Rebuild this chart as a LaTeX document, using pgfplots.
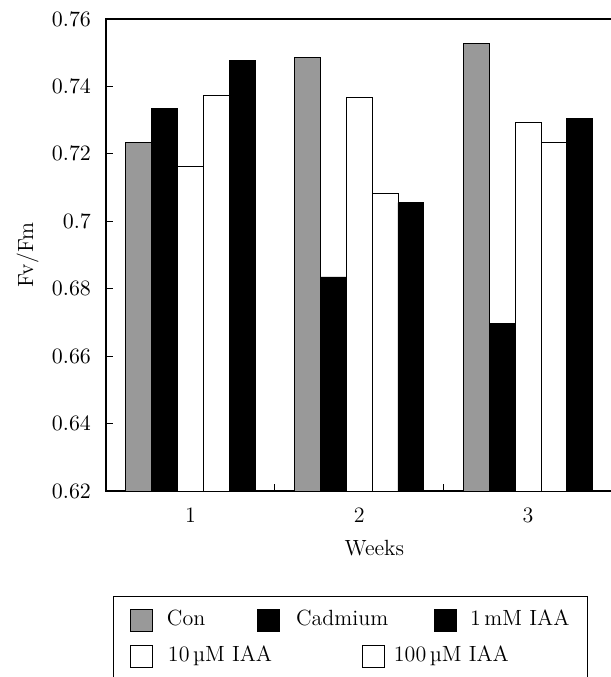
\documentclass[border=0pt]{standalone}
\usepackage{pgfplots}
\pgfplotsset{compat=1.18}
\pgfplotstableread{
week con   cad    tenuM  hundreduM onemM
1    0.7234 0.7335 0.7164 0.7373 0.7476
2    0.7486 0.6835 0.7366 0.7083 0.7055
3    0.7527 0.6696 0.7294 0.7235 0.7305
}\datatable
\begin{document}
\begin{tikzpicture}[font=\fontsize{11}{13}\selectfont]
\pgfplotsset{
  sqleg/.style={legend image code/.code={\draw[##1, line width=0.4pt] (0pt,-3pt) rectangle (11pt,8pt);}},
  common/.style={scale only axis, width=253.2pt, height=236pt, at={(0,0)}, anchor=south west},
}
\begin{axis}[
  common,
  xmin=0.5, xmax=3.5, ymin=0.62, ymax=0.76,
  axis line style={line width=0.6pt},
  xtick={1.5,2.5}, xticklabels={},
  extra x ticks={1,2,3}, extra x tick labels={1,2,3},
  extra x tick style={major tick length=0pt, tick label style={yshift=-4.8pt}},
  xtick pos=bottom, ytick pos=left,
  tick align=inside, major tick length=3.5pt,
  tick style={black, line width=0.6pt},
  ytick={0.62,0.64,0.66,0.68,0.70,0.72,0.74,0.76},
  yticklabel style={/pgf/number format/fixed, /pgf/number format/precision=2, xshift=-4pt},
  ylabel={Fv/Fm}, ylabel style={at={(axis description cs:-0.155,0.5)}, anchor=center},
  xlabel={Weeks}, xlabel style={at={(axis description cs:0.53,0)}, anchor=center, yshift=-28.5pt},
  sqleg,
  legend columns=3, legend cell align=left,
  legend style={at={(0,0)}, anchor=north west, xshift=11.8pt, yshift=-58.8pt,
    draw=none, fill=none, inner sep=0pt, outer sep=0pt,
    nodes={inner sep=0pt, outer sep=0pt, anchor=base west},
    /tikz/column 1/.style={column sep=7.3pt},
    /tikz/column 2/.style={column sep=25.7pt},
    /tikz/column 3/.style={column sep=8.3pt},
    /tikz/column 4/.style={column sep=22.7pt},
    /tikz/column 5/.style={column sep=6.8pt}},
]
\addplot[ybar, bar width=0.153, bar shift=-0.306, fill=black!40, draw=black, line width=0.4pt, forget plot] table[x=week, y=con] {\datatable};
\addplot[ybar, bar width=0.153, bar shift=-0.153, fill=black, draw=black, line width=0.4pt, forget plot] table[x=week, y=cad] {\datatable};
\addplot[ybar, bar width=0.153, bar shift=0, fill=white, draw=black, line width=0.4pt, forget plot] table[x=week, y=tenuM] {\datatable};
\addplot[ybar, bar width=0.153, bar shift=0.153, fill=white, draw=black, line width=0.4pt, forget plot] table[x=week, y=hundreduM] {\datatable};
\addplot[ybar, bar width=0.153, bar shift=0.306, fill=black, draw=black, line width=0.4pt, forget plot] table[x=week, y=onemM] {\datatable};
\addlegendimage{fill=black!40, draw=black}
\addlegendentry{Con}
\addlegendimage{fill=black, draw=black}
\addlegendentry{Cadmium}
\addlegendimage{fill=black, draw=black}
\addlegendentry{1\,mM IAA}
\end{axis}
\begin{axis}[
  common, hide axis,
  xmin=0, xmax=1, ymin=0, ymax=1,
  sqleg,
  legend columns=2, legend cell align=left,
  legend style={at={(0,0)}, anchor=north west, xshift=11.8pt, yshift=-76.8pt,
    draw=none, fill=none, inner sep=0pt, outer sep=0pt,
    nodes={inner sep=0pt, outer sep=0pt, anchor=base west},
    /tikz/column 1/.style={column sep=7.8pt},
    /tikz/column 2/.style={column sep=44.7pt},
    /tikz/column 3/.style={column sep=4.8pt}},
]
\addlegendimage{fill=white, draw=black}
\addlegendentry{10\,µM IAA}
\addlegendimage{fill=white, draw=black}
\addlegendentry{100\,µM IAA}
\end{axis}
\draw[line width=0.5pt] (4pt,-52.5pt) rectangle (241pt,-110pt);
\pgfresetboundingbox
\path[use as bounding box] (-53pt,-93pt) rectangle (252.5pt,245.5pt);
\end{tikzpicture}
\end{document}
